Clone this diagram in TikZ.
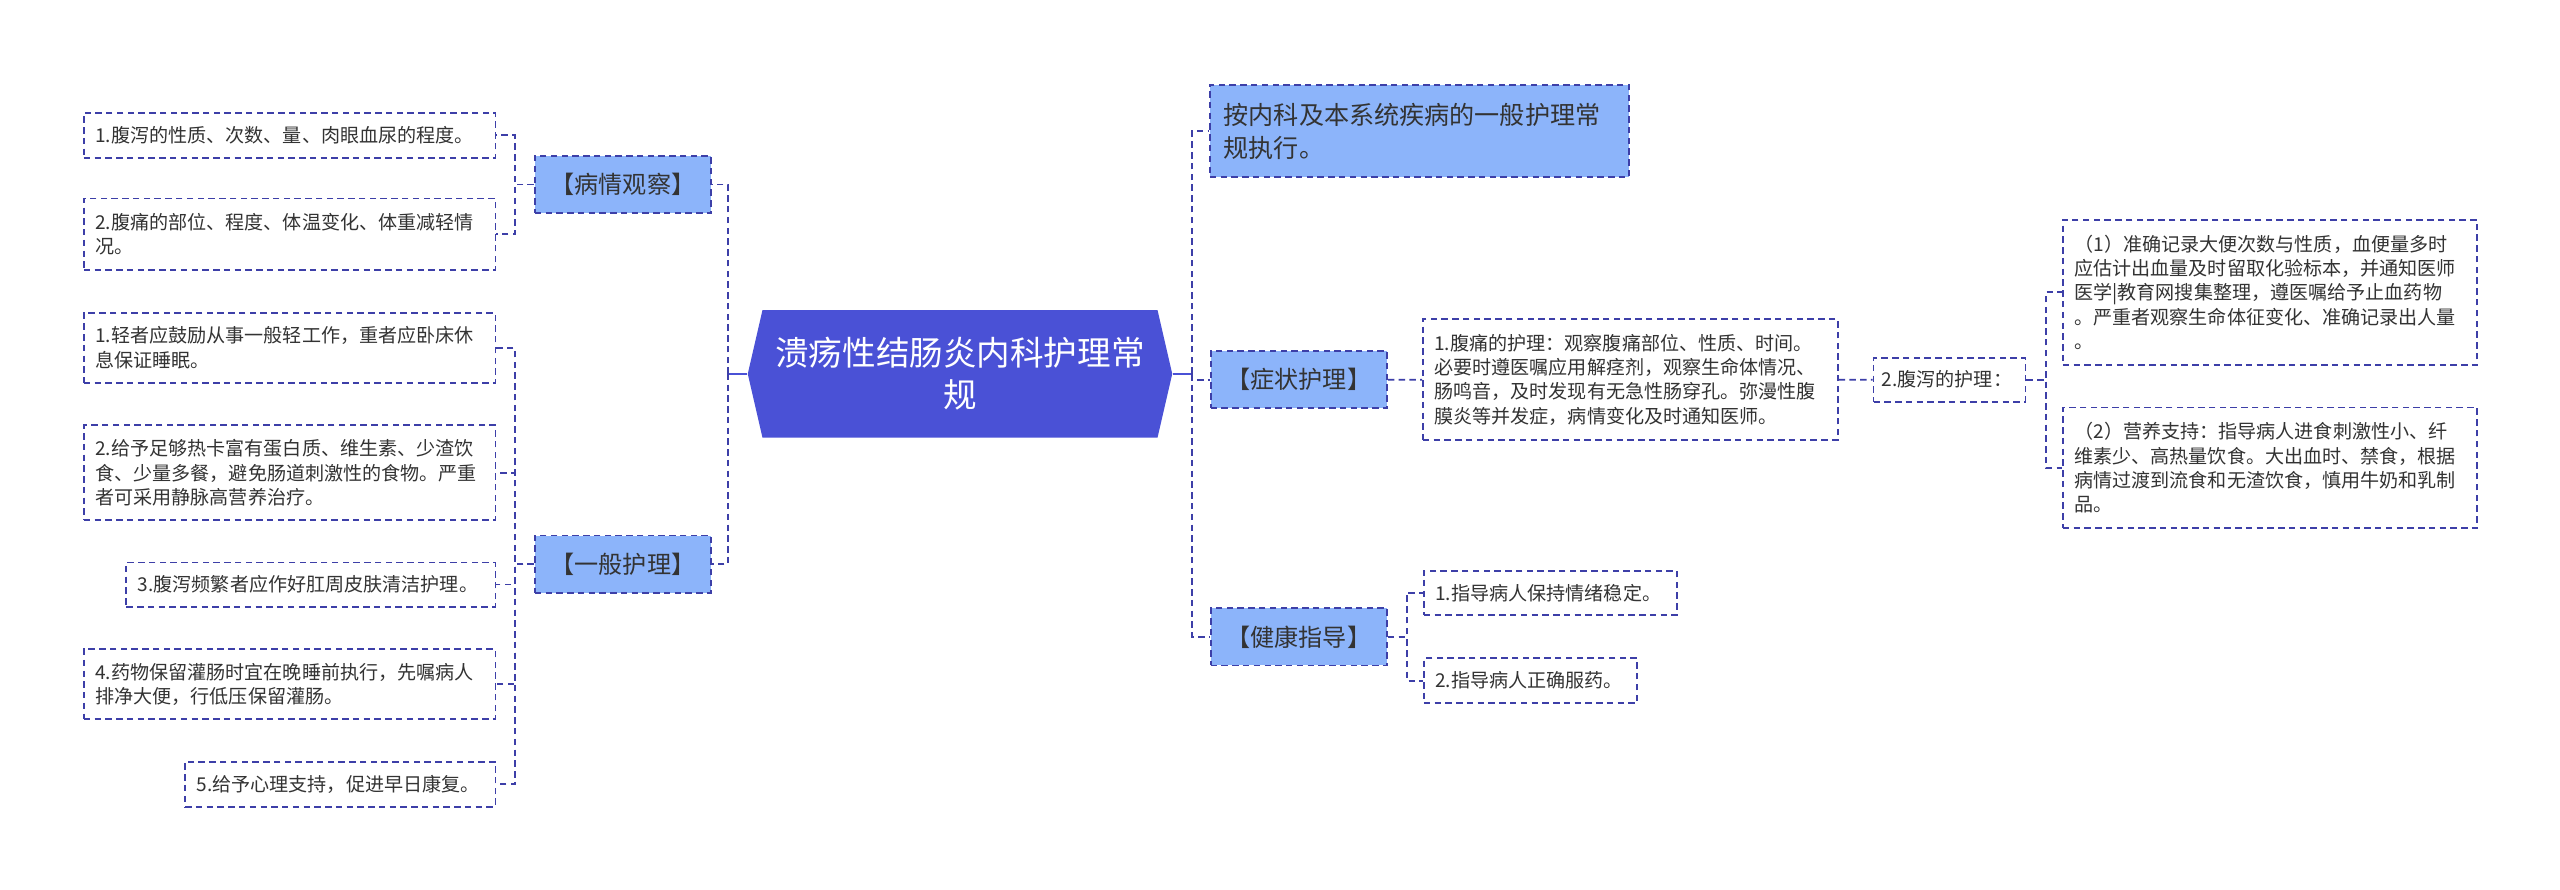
\documentclass[tikz,border=0pt]{standalone}
\usepackage{fontspec}
\setmainfont{Noto Sans CJK SC}
\definecolor{rootblue}{HTML}{4A51D6}
\definecolor{branchblue}{HTML}{8CB4FA}
\definecolor{dashblue}{HTML}{3D3FA8}
\definecolor{inkgray}{HTML}{333333}

\begin{document}
\begin{tikzpicture}[x=0.04cm, y=-0.04cm,
    every node/.style={font=\fontsize{13.3pt}{17pt}\selectfont, text=inkgray},
    link/.style={draw=dashblue, line width=1.25pt, dash pattern=on 4.5pt off 3pt},
    rootlink/.style={draw=rootblue, line width=1.8pt},
    leaf/.style={link, anchor=north west, align=left, inner xsep=0.28cm, inner ysep=0pt},
    leftleaf/.style={leaf, anchor=north east},
    branch/.style={link, fill=branchblue, anchor=north west, minimum width=4.32cm, minimum height=1.4cm, inner sep=0pt, font=\fontsize{16.8pt}{20pt}\selectfont}]

    % page
    \fill[white] (0,0) rectangle (1568,545);
    \useasboundingbox (0,0) rectangle (1568,545);

    % Root
    \fill[rootblue] (458,229) -- (467,190) -- (709,190) -- (718,229) -- (709,268) -- (467,268) -- cycle;
    \node[text=white, align=center, font=\fontsize{23.4pt}{29pt}\selectfont, minimum width=10.4cm, minimum height=3.12cm, inner sep=0pt] (root) at (588,229) {溃疡性结肠炎内科护理常\\规};

    % left branches
    \node[branch] (observe) at (327,95) {【病情观察】};
    \node[branch] (general) at (327,327.5) {【一般护理】};

    % observe leaves
    \node[leftleaf, text width=9.52cm, minimum height=1.1cm] (observeA) at (304,68.5) {1.腹泻的性质、次数、量、肉眼血尿的程度。};
    \node[leftleaf, text width=9.52cm, minimum height=1.76cm] (observeB) at (304,121) {2.腹痛的部位、程度、体温变化、体重减轻情\\况。};

    % general leaves
    \node[leftleaf, text width=9.52cm, minimum height=1.72cm] (generalA) at (304,191) {1.轻者应鼓励从事一般轻工作，重者应卧床休\\息保证睡眠。};
    \node[leftleaf, text width=9.52cm, minimum height=2.32cm] (generalB) at (304,260) {2.给予足够热卡富有蛋白质、维生素、少渣饮\\食、少量多餐，避免肠道刺激性的食物。严重\\者可采用静脉高营养治疗。};
    \node[leftleaf, text width=8.48cm, minimum height=1.08cm] (generalC) at (304,344) {3.腹泻频繁者应作好肛周皮肤清洁护理。};
    \node[leftleaf, text width=9.52cm, minimum height=1.72cm] (generalD) at (304,397) {4.药物保留灌肠时宜在晚睡前执行，先嘱病人\\排净大便，行低压保留灌肠。};
    \node[leftleaf, text width=7.04cm, minimum height=1.1cm] (generalE) at (304,466) {5.给予心理支持，促进早日康复。};

    % right branches
    \node[branch, align=left, text width=9.58cm, inner xsep=0.34cm, minimum height=2.26cm, font=\fontsize{17.5pt}{23pt}\selectfont] (care) at (740.5,51.5) {按内科及本系统疾病的一般护理常\\规执行。};
    \node[branch] (symptom) at (741,214.5) {【症状护理】};
    \node[branch] (health) at (741,372) {【健康指导】};

    % symptom leaves
    \node[leaf, text width=9.6cm, minimum height=2.96cm] (symptomA) at (871,195) {1.腹痛的护理：观察腹痛部位、性质、时间。\\必要时遵医嘱应用解痉剂，观察生命体情况、\\肠鸣音，及时发现有无急性肠穿孔。弥漫性腹\\膜炎等并发症，病情变化及时通知医师。};
    \node[leaf, text width=3.32cm, inner xsep=0.2cm, minimum height=1.08cm] (symptomB) at (1147,218.5) {2.腹泻的护理：};
    \node[leaf, text width=9.58cm, minimum height=3.56cm] (symptomBa) at (1263,134) {（1）准确记录大便次数与性质，血便量多时\\应估计出血量及时留取化验标本，并通知医师\\医学|教育网搜集整理，遵医嘱给予止血药物\\。严重者观察生命体征变化、准确记录出人量\\。};
    \node[leaf, text width=9.58cm, minimum height=2.96cm] (symptomBb) at (1263,249) {（2）营养支持：指导病人进食刺激性小、纤\\维素少、高热量饮食。大出血时、禁食，根据\\病情过渡到流食和无渣饮食，慎用牛奶和乳制\\品。};

    % health leaves
    \node[leaf, text width=5.64cm, minimum height=1.08cm] (healthA) at (871.6,349) {1.指导病人保持情绪稳定。};
    \node[leaf, text width=4.66cm, minimum height=1.1cm] (healthB) at (871.6,402.6) {2.指导病人正确服药。};

    % root links
    \draw[rootlink] (root.west) -- ++(-12,0) coordinate (lefthub);
    \draw[rootlink] (root.east) -- ++(12,0) coordinate (righthub);
    \draw[link] (lefthub) |- (observe.east);
    \draw[link] (lefthub) |- (general.east);
    \draw[link] (righthub) |- (care.west);
    \draw[link] (righthub) |- (symptom.west);
    \draw[link] (righthub) |- (health.west);

    % observe links
    \draw[link] (observe.west) -- ++(-11.7,0) |- (observeA.east);
    \draw[link] (observe.west) -- ++(-11.7,0) |- (observeB.east);

    % general links
    \draw[link] (general.west) -- ++(-11.7,0) |- (generalA.east);
    \draw[link] (general.west) -- ++(-11.7,0) |- (generalB.east);
    \draw[link] (general.west) -- ++(-11.7,0) |- (generalC.east);
    \draw[link] (general.west) -- ++(-11.7,0) |- (generalD.east);
    \draw[link] (general.west) -- ++(-11.7,0) |- (generalE.east);

    % symptom links
    \draw[link] (symptom.east) -- (symptomA.west);
    \draw[link] (symptomA.east) -- (symptomB.west);
    \draw[link] (symptomB.east) -- ++(12,0) |- (symptomBa.west);
    \draw[link] (symptomB.east) -- ++(12,0) |- (symptomBb.west);

    % health links
    \draw[link] (health.east) -- ++(11.6,0) |- (healthA.west);
    \draw[link] (health.east) -- ++(11.6,0) |- (healthB.west);

\end{tikzpicture}
\end{document}
